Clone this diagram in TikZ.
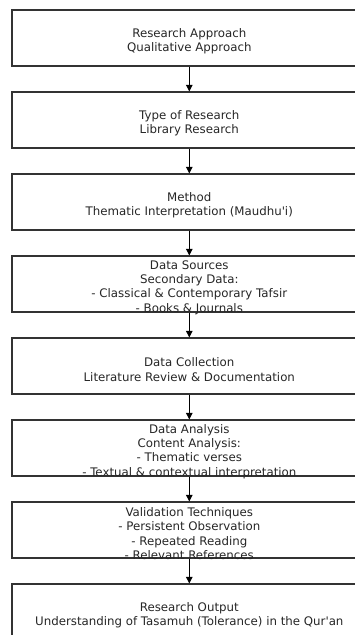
\documentclass[tikz,border=0pt]{standalone}
\usepackage{fontspec}
\setmainfont{DejaVu Sans}[Ligatures=TeXOff]
\usetikzlibrary{arrows.meta}
\begin{document}
\begin{tikzpicture}[x=1pt,y=1pt,
  stagebox/.style={draw=black!80, line width=1.2pt, minimum width=354.6pt, minimum height=56pt, inner sep=0pt, fill=none},
  stagetext/.style={align=center, inner sep=0pt, yshift=-3.5pt, font=\fontsize{11.8pt}{14.2pt}\selectfont, text=black!85},
  arr/.style={draw=black, line width=1pt, -{Triangle[length=6.5pt,width=6.5pt]}}]
\useasboundingbox (0,0) rectangle (355,-635);
\clip (0,0) rectangle (355,-635);
\foreach \i/\y in {1/38,2/120,3/202,4/284,5/366,6/448,7/530,8/612}{
  \node[stagebox] (b\i) at (189.3,-\y) {};
}
\node[stagetext] (t1) at (b1.center) {Research Approach\\Qualitative Approach};
\node[stagetext] (t2) at (b2.center) {Type of Research\\Library Research};
\node[stagetext] (t3) at (b3.center) {Method\\Thematic Interpretation (Maudhu'i)};
\node[stagetext] (t4) at (b4.center) {Data Sources\\Secondary Data:\\- Classical \& Contemporary Tafsir\\- Books \& Journals};
\node[stagetext] (t5) at (b5.center) {Data Collection\\Literature Review \& Documentation};
\node[stagetext] (t6) at (b6.center) {Data Analysis\\Content Analysis:\\- Thematic verses\\- Textual \& contextual interpretation};
\node[stagetext] (t7) at (b7.center) {Validation Techniques\\- Persistent Observation\\- Repeated Reading\\- Relevant References};
\node[stagetext] (t8) at (b8.center) {Research Output\\Understanding of Tasamuh (Tolerance) in the Qur'an};
\foreach \a/\b in {1/2,2/3,3/4,4/5,5/6,6/7,7/8}{
  \draw[arr] (b\a.south) -- (b\b.north);
}
\end{tikzpicture}
\end{document}
